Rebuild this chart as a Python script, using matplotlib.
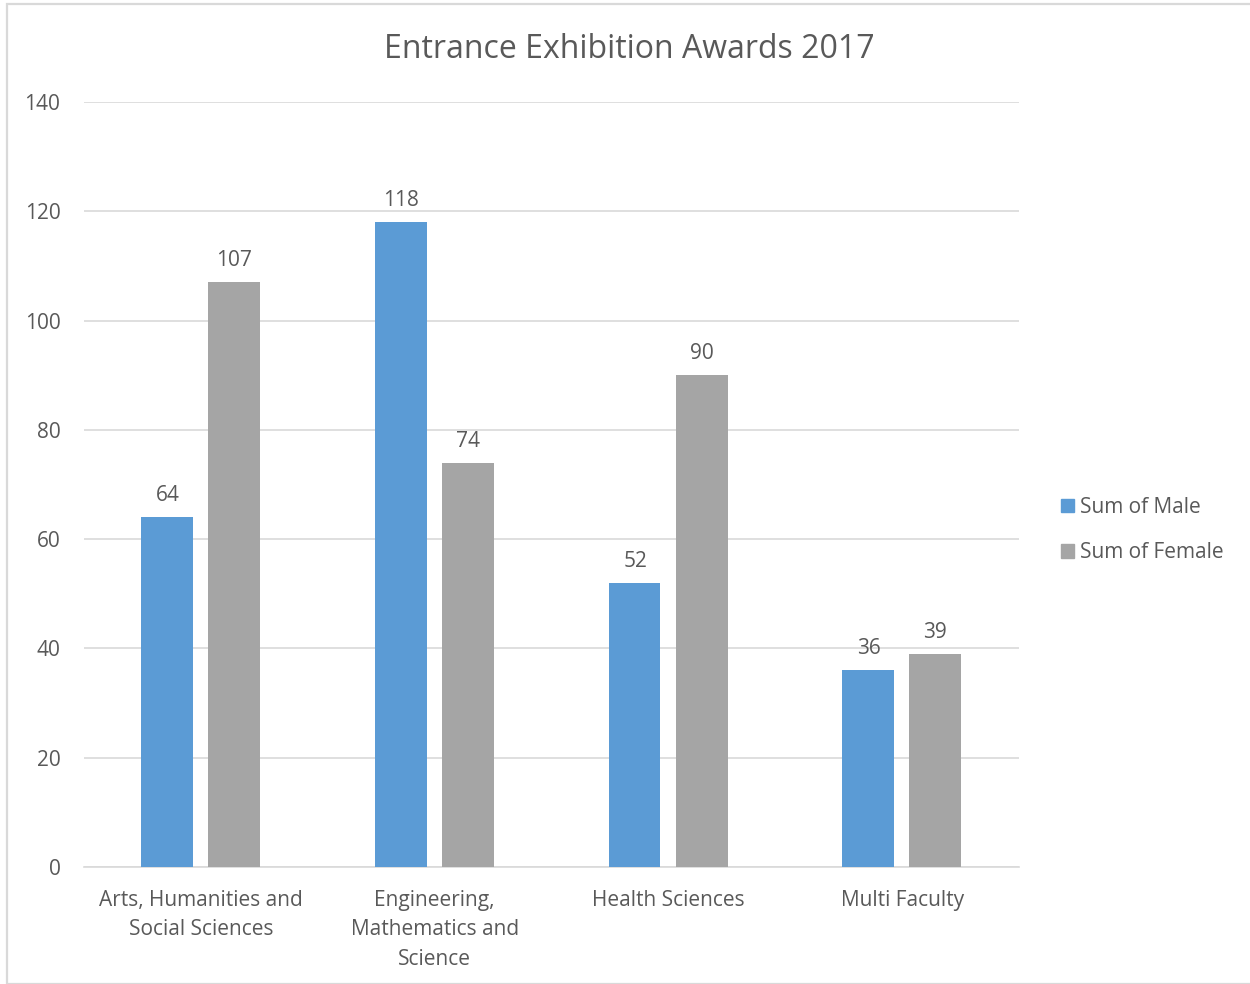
import matplotlib
matplotlib.use("Agg")
import matplotlib.pyplot as plt
from matplotlib.patches import Rectangle, Patch
import numpy as np

categories = ["Arts, Humanities and\nSocial Sciences",
              "Engineering,\nMathematics and\nScience",
              "Health Sciences",
              "Multi Faculty"]
male = [64, 118, 52, 36]
female = [107, 74, 90, 39]
yticks = [0, 20, 40, 60, 80, 100, 120, 140]
title = "Entrance Exhibition Awards 2017"

plt.rcParams['font.family'] = ['Open Sans', 'DejaVu Sans']
TXT = '#595959'
BLUE = '#5B9BD5'
GRAY = '#A5A5A5'
GRID = '#D9D9D9'
FS = 15

fig = plt.figure(figsize=(12.5, 9.84), dpi=100)
ax = fig.add_axes([84/1250, 1-867/984, (1019-84)/1250, (867-102)/984])

x = np.arange(len(categories))
w = 0.222
off = 0.142
ax.bar(x - off - 0.003, male, w, color=BLUE, zorder=3, label='Sum of Male')
ax.bar(x + off, female, w, color=GRAY, zorder=3, label='Sum of Female')

for xi, v in zip(x, male):
    ax.annotate(str(v), (xi - off, v), xytext=(0, 8), textcoords='offset points',
                ha='center', va='bottom', fontsize=FS, color=TXT)
for xi, v in zip(x, female):
    ax.annotate(str(v), (xi + off, v), xytext=(0, 8), textcoords='offset points',
                ha='center', va='bottom', fontsize=FS, color=TXT)

ax.set_xlim(-0.5, 3.5)
ax.set_ylim(0, 140)
ax.set_yticks(yticks)
ax.set_yticklabels([str(t) for t in yticks], fontsize=FS, color=TXT)
ax.set_xticks(x)
ax.set_xticklabels(categories, fontsize=FS, color=TXT, linespacing=1.52)
ax.tick_params(axis='both', length=0)
ax.tick_params(axis='y', pad=17)
ax.tick_params(axis='x', pad=16.5)
ax.yaxis.grid(True, color=GRID, linewidth=1.2, zorder=0)
for s in ['top', 'right', 'left']:
    ax.spines[s].set_visible(False)
ax.spines['bottom'].set_color(GRID)
ax.spines['bottom'].set_linewidth(1.2)

fig.text(629/1250, 1-50/984, title, ha='center', va='center', fontsize=23, color=TXT)

handles = [Patch(color=BLUE), Patch(color=GRAY)]
leg = fig.legend(handles, ['Sum of Male', 'Sum of Female'],
                 loc='upper left', bbox_to_anchor=(1061/1250, 1-497/984),
                 frameon=False, fontsize=FS, labelcolor=TXT,
                 handlelength=0.6, handleheight=0.6, handletextpad=0.3,
                 labelspacing=1.17, borderpad=0, borderaxespad=0)

fig.patches.append(Rectangle((6.5/1250, 0), 1.2, 1-3.5/984, transform=fig.transFigure,
                             fill=False, edgecolor=GRID, linewidth=1.6))

fig.savefig('out.png', dpi=100)
